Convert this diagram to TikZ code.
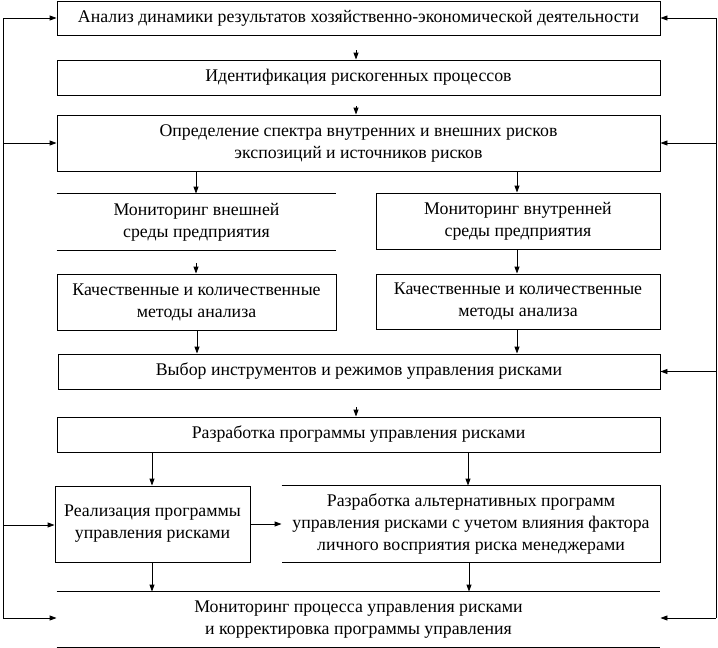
\documentclass[tikz,border=0pt]{standalone}
\usepackage{fontspec}
\setmainfont{Liberation Serif}
\usetikzlibrary{arrows.meta,calc}
\begin{document}
\begin{tikzpicture}[x=1pt,y=-1pt,
  lw/.style={line width=0.9pt},
  bx/.style={draw, lw, inner sep=0pt, align=center, font=\fontsize{17.8}{22}\selectfont},
  nb/.style={bx, draw=none},
  arr/.style={lw, -{Triangle[length=7pt,width=5pt]}},
  ln/.style={lw}]
\useasboundingbox (0,0) rectangle (718,648);
\fill[white] (0,0) rectangle (718,648);

\node[bx, minimum width=603pt, minimum height=34pt] (b1) at (358.5,18)
  {Анализ динамики результатов хозяйственно-экономической деятельности};
\node[bx, minimum width=603pt, minimum height=35pt] (b2) at (358.5,77.5)
  {Идентификация рискогенных процессов};
\node[bx, minimum width=603pt, minimum height=56pt] (b3) at (358.5,143)
  {Определение спектра внутренних и внешних рисков\\экспозиций и источников рисков};
\node[nb, minimum width=279pt, minimum height=56pt] (ml) at (196.5,222)
  {Мониторинг внешней\\среды предприятия};
\draw[ln] (ml.north west) -- (ml.north east);
\draw[ln] (ml.south west) -- (ml.south east);
\node[bx, minimum width=284pt, minimum height=56pt] (mr) at (518,221)
  {Мониторинг внутренней\\среды предприятия};
\node[bx, minimum width=279pt, minimum height=56pt] (kl) at (196.5,302)
  {Качественные и количественные\\методы анализа};
\node[bx, minimum width=284pt, minimum height=55pt] (kr) at (518,301.5)
  {Качественные и количественные\\методы анализа};
\node[bx, minimum width=602pt, minimum height=35pt] (v) at (359,371.5)
  {Выбор инструментов и режимов управления рисками};
\node[bx, minimum width=603pt, minimum height=35pt] (r) at (358.5,434.5)
  {Разработка программы управления рисками};
\node[bx, minimum width=195pt, minimum height=76pt] (re) at (152.5,524)
  {Реализация программы\\управления рисками};
\node[nb, minimum width=378pt, minimum height=76pt] (al) at (471,524)
  {Разработка альтернативных программ\\управления рисками с учетом влияния фактора\\личного восприятия риска менеджерами};
\draw[ln] (al.north west) -- (al.north east) -- (al.south east) -- (al.south west);
\node[nb, minimum width=603pt, minimum height=55pt] (m) at (358.5,619.5)
  {Мониторинг процесса управления рисками\\и корректировка программы управления};
\draw[ln] (m.north west) -- (m.north east);
\draw[ln] (m.south west) -- (m.south east);

% vertical arrows
\coordinate (s12) at (356,50);
\draw[arr] (s12) -- (s12 |- b2.north);
\coordinate (s23) at (356,106);
\draw[arr] (s23) -- (s23 |- b3.north);
\draw[arr] (196,171) coordinate (s3l) -- (s3l |- ml.north);
\draw[arr] (517,171) coordinate (s3r) -- (s3r |- mr.north);
\coordinate (sml) at (196,263);
\draw[arr] (sml) -- (sml |- kl.north);
\draw[arr] (517,249) coordinate (smr) -- (smr |- kr.north);
\draw[arr] (197,330) coordinate (skl) -- (skl |- v.north);
\draw[arr] (517,329) coordinate (skr) -- (skr |- v.north);
\coordinate (sv) at (356,407);
\draw[arr] (sv) -- (sv |- r.north);
\draw[arr] (152,452) coordinate (sr1) -- (sr1 |- re.north);
\draw[arr] (468,452) coordinate (sr2) -- (sr2 |- al.north);
\draw[arr] (re.east) -- (al.west);
\draw[arr] (152,562) coordinate (sre) -- (sre |- m.north);
\draw[arr] (469,562) coordinate (sal) -- (sal |- m.north);

% left feedback
\coordinate (lt) at (3,18);
\coordinate (lb) at (3,618);
\draw[ln] (lt) -- (lb);
\draw[arr] (lt) -- (b1.west);
\draw[arr] (3,143) coordinate (l3) -- (b3.west);
\draw[arr] (3,525) coordinate (l4) -- (l4 -| re.west);
\draw[arr] (lb) -- (lb -| m.west);

% right feedback
\coordinate (rt) at (716,18);
\coordinate (rb) at (716,618);
\draw[ln] (rt) -- (rb);
\draw[arr] (rt) -- (b1.east);
\draw[arr] (716,143) coordinate (r3) -- (b3.east);
\draw[arr] (716,371.5) coordinate (r4) -- (v.east);
\draw[arr] (rb) -- (rb -| m.east);
\end{tikzpicture}
\end{document}
